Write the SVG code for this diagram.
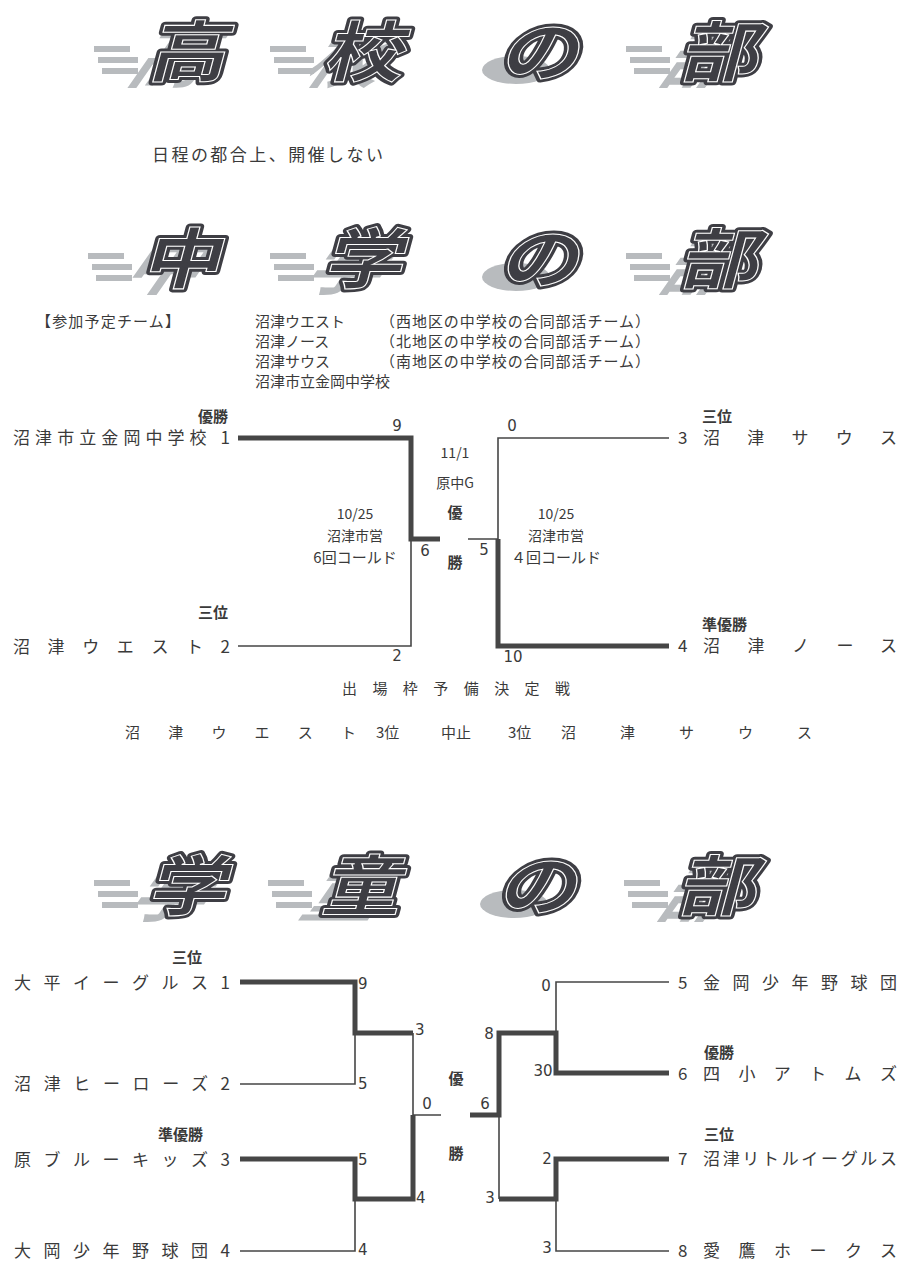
<svg xmlns="http://www.w3.org/2000/svg" width="923" height="1280" viewBox="0 0 923 1280">
<defs>
<style>
.t{font-family:"Noto Sans CJK JP","Noto Sans CJK SC",sans-serif;fill:#3a3a3a}
.n{font-size:17px}
.m{font-size:15px}
.b{font-weight:700;font-size:15px}
.d{font-family:"DejaVu Sans",sans-serif;font-size:15px;fill:#3a3a3a}
.ts{font-family:"Noto Sans CJK JP",sans-serif;font-weight:700;font-size:66px;fill:#b8bbbe;text-anchor:middle}
.tm{font-family:"Noto Sans CJK JP",sans-serif;font-weight:700;font-size:66px;fill:#3e3e44;stroke:#3e3e44;stroke-width:7;stroke-linejoin:round;text-anchor:middle}
.tw{font-family:"Noto Sans CJK JP",sans-serif;font-weight:700;font-size:66px;fill:none;stroke:#ffffff;stroke-width:1;text-anchor:middle}
.sl{fill:#b8bbbe}
.thk{fill:none;stroke:#464646;stroke-width:5;stroke-linejoin:miter}
.thn{fill:none;stroke:#464646;stroke-width:1.6}
</style>
</defs>
<rect width="923" height="1280" fill="#ffffff"/>

<!-- Title 1 -->
<g id="title-koukou">
<g transform="translate(186,76)"><rect class="sl" x="-92" y="-30" width="36" height="6"/><rect class="sl" x="-88" y="-19" width="40" height="6"/><rect class="sl" x="-84" y="-8" width="36" height="6"/><text class="ts" transform="translate(-24,6) skewX(-35) scale(1.15,1)">高</text><text class="tm" transform="skewX(-15) scale(1.2,1)">高</text><text class="tw" transform="skewX(-15) scale(1.2,1)">高</text></g>
<g transform="translate(362,76)"><rect class="sl" x="-92" y="-30" width="36" height="6"/><rect class="sl" x="-88" y="-19" width="40" height="6"/><rect class="sl" x="-84" y="-8" width="36" height="6"/><text class="ts" transform="translate(-24,6) skewX(-35) scale(1.15,1)">校</text><text class="tm" transform="skewX(-15) scale(1.2,1)">校</text><text class="tw" transform="skewX(-15) scale(1.2,1)">校</text></g>
<g transform="translate(538,76)"><ellipse class="sl" cx="-22" cy="-6" rx="34" ry="14"/><text class="tm" transform="skewX(-15) scale(1.2,1)">の</text><text class="tw" transform="skewX(-15) scale(1.2,1)">の</text></g>
<g transform="translate(718,76)"><rect class="sl" x="-92" y="-30" width="36" height="6"/><rect class="sl" x="-88" y="-19" width="40" height="6"/><rect class="sl" x="-84" y="-8" width="36" height="6"/><text class="ts" transform="translate(-24,6) skewX(-35) scale(1.15,1)">部</text><text class="tm" transform="skewX(-15) scale(1.2,1)">部</text><text class="tw" transform="skewX(-15) scale(1.2,1)">部</text></g>
</g>
<g id="note-koukou"><text class="t" x="152" y="161" font-size="17" textLength="231" lengthAdjust="spacing">日程の都合上、開催しない</text></g>

<!-- Title 2 -->
<g id="title-chugaku">
<g transform="translate(180,283)"><rect class="sl" x="-92" y="-30" width="36" height="6"/><rect class="sl" x="-88" y="-19" width="40" height="6"/><rect class="sl" x="-84" y="-8" width="36" height="6"/><text class="ts" transform="translate(-24,6) skewX(-35) scale(1.15,1)">中</text><text class="tm" transform="skewX(-15) scale(1.2,1)">中</text><text class="tw" transform="skewX(-15) scale(1.2,1)">中</text></g>
<g transform="translate(362,283)"><rect class="sl" x="-92" y="-30" width="36" height="6"/><rect class="sl" x="-88" y="-19" width="40" height="6"/><rect class="sl" x="-84" y="-8" width="36" height="6"/><text class="ts" transform="translate(-24,6) skewX(-35) scale(1.15,1)">学</text><text class="tm" transform="skewX(-15) scale(1.2,1)">学</text><text class="tw" transform="skewX(-15) scale(1.2,1)">学</text></g>
<g transform="translate(538,283)"><ellipse class="sl" cx="-22" cy="-6" rx="34" ry="14"/><text class="tm" transform="skewX(-15) scale(1.2,1)">の</text><text class="tw" transform="skewX(-15) scale(1.2,1)">の</text></g>
<g transform="translate(718,283)"><rect class="sl" x="-92" y="-30" width="36" height="6"/><rect class="sl" x="-88" y="-19" width="40" height="6"/><rect class="sl" x="-84" y="-8" width="36" height="6"/><text class="ts" transform="translate(-24,6) skewX(-35) scale(1.15,1)">部</text><text class="tm" transform="skewX(-15) scale(1.2,1)">部</text><text class="tw" transform="skewX(-15) scale(1.2,1)">部</text></g>
</g>

<g id="teams-list">
<text class="t m" x="36" y="327" textLength="144" lengthAdjust="spacing">【参加予定チーム】</text>
<text class="t m" x="255" y="327">沼津ウエスト</text>
<text class="t m" x="380" y="327" textLength="270" lengthAdjust="spacing">（西地区の中学校の合同部活チーム）</text>
<text class="t m" x="255" y="347">沼津ノース</text>
<text class="t m" x="380" y="347" textLength="270" lengthAdjust="spacing">（北地区の中学校の合同部活チーム）</text>
<text class="t m" x="255" y="367">沼津サウス</text>
<text class="t m" x="380" y="367" textLength="270" lengthAdjust="spacing">（南地区の中学校の合同部活チーム）</text>
<text class="t m" x="255" y="387">沼津市立金岡中学校</text>
</g>

<!-- Junior high bracket -->
<g id="connectors-chugaku">
<path class="thk" d="M238,438 H411 V539 H440"/>
<path class="thn" d="M411,539 V646 H238"/>
<path class="thn" d="M468,539 H498 V438 H669"/>
<path class="thk" d="M498,539 V646 H669"/>
</g>
<g id="team-c1"><text class="t b" x="198" y="422">優勝</text><text class="t n" x="13" y="444" textLength="217" lengthAdjust="spacing">沼津市立金岡中学校 1</text></g>
<g id="team-c2"><text class="t b" x="198" y="618">三位</text><text class="t n" x="13" y="653" textLength="217" lengthAdjust="spacing">沼津ウエスト2</text></g>
<g id="team-c3"><text class="t b" x="702" y="422">三位</text><text class="t n" x="678" y="444">3</text><text class="t n" x="703" y="444" textLength="194" lengthAdjust="spacing">沼津サウス</text></g>
<g id="team-c4"><text class="t b" x="702" y="630">準優勝</text><text class="t n" x="678" y="652">4</text><text class="t n" x="703" y="652" textLength="194" lengthAdjust="spacing">沼津ノース</text></g>
<g id="scores-chugaku">
<text class="d" x="397" y="431" text-anchor="middle">9</text>
<text class="d" x="425" y="556" text-anchor="middle">6</text>
<text class="d" x="397" y="661" text-anchor="middle">2</text>
<text class="d" x="512" y="431" text-anchor="middle">0</text>
<text class="d" x="484" y="555" text-anchor="middle">5</text>
<text class="d" x="513" y="662" text-anchor="middle">10</text>
</g>
<g id="final-chugaku">
<text class="t" x="455" y="458" font-size="14" text-anchor="middle">11/1</text>
<text class="t" x="455" y="488" font-size="14" text-anchor="middle">原中G</text>
<text class="t b" x="455" y="518" text-anchor="middle">優</text>
<text class="t b" x="455" y="568" text-anchor="middle">勝</text>
</g>
<g id="semi-c1">
<text class="t" x="355" y="519" font-size="14" text-anchor="middle">10/25</text>
<text class="t" x="355" y="541" font-size="14" text-anchor="middle">沼津市営</text>
<text class="t" x="355" y="563" font-size="15" text-anchor="middle">6回コールド</text>
</g>
<g id="semi-c2">
<text class="t" x="556" y="519" font-size="14" text-anchor="middle">10/25</text>
<text class="t" x="556" y="541" font-size="14" text-anchor="middle">沼津市営</text>
<text class="t" x="556" y="563" font-size="15" text-anchor="middle">４回コールド</text>
</g>
<g id="playoff">
<text class="t m" x="342" y="694" textLength="228" lengthAdjust="spacing">出場枠予備決定戦</text>
<text class="t m" x="125" y="738" textLength="231" lengthAdjust="spacing">沼津ウエスト</text>
<text class="t m" x="376" y="738">3位</text>
<text class="t m" x="441" y="738">中止</text>
<text class="t m" x="508" y="738">3位</text>
<text class="t m" x="561" y="738" textLength="251" lengthAdjust="spacing">沼津サウス</text>
</g>

<!-- Title 3 -->
<g id="title-gakudou">
<g transform="translate(186,910)"><rect class="sl" x="-92" y="-30" width="36" height="6"/><rect class="sl" x="-88" y="-19" width="40" height="6"/><rect class="sl" x="-84" y="-8" width="36" height="6"/><text class="ts" transform="translate(-24,6) skewX(-35) scale(1.15,1)">学</text><text class="tm" transform="skewX(-15) scale(1.2,1)">学</text><text class="tw" transform="skewX(-15) scale(1.2,1)">学</text></g>
<g transform="translate(360,910)"><rect class="sl" x="-92" y="-30" width="36" height="6"/><rect class="sl" x="-88" y="-19" width="40" height="6"/><rect class="sl" x="-84" y="-8" width="36" height="6"/><text class="ts" transform="translate(-24,6) skewX(-35) scale(1.15,1)">童</text><text class="tm" transform="skewX(-15) scale(1.2,1)">童</text><text class="tw" transform="skewX(-15) scale(1.2,1)">童</text></g>
<g transform="translate(536,910)"><ellipse class="sl" cx="-22" cy="-6" rx="34" ry="14"/><text class="tm" transform="skewX(-15) scale(1.2,1)">の</text><text class="tw" transform="skewX(-15) scale(1.2,1)">の</text></g>
<g transform="translate(716,910)"><rect class="sl" x="-92" y="-30" width="36" height="6"/><rect class="sl" x="-88" y="-19" width="40" height="6"/><rect class="sl" x="-84" y="-8" width="36" height="6"/><text class="ts" transform="translate(-24,6) skewX(-35) scale(1.15,1)">部</text><text class="tm" transform="skewX(-15) scale(1.2,1)">部</text><text class="tw" transform="skewX(-15) scale(1.2,1)">部</text></g>
</g>

<!-- Elementary bracket -->
<g id="connectors-gakudou">
<path class="thk" d="M240,982 H355 V1033 H413"/>
<path class="thn" d="M355,1033 V1084 H240"/>
<path class="thk" d="M240,1159 H355 V1199 H413 V1115"/>
<path class="thn" d="M355,1199 V1251 H240"/>
<path class="thn" d="M413,1033 V1115 H441"/>
<path class="thk" d="M470,1115 H499 V1033 H556 V1073 H669"/>
<path class="thn" d="M556,1033 V982 H669"/>
<path class="thn" d="M499,1115 V1199"/>
<path class="thk" d="M499,1199 H556 V1159 H669"/>
<path class="thn" d="M556,1199 V1251 H669"/>
</g>
<g id="team-g1"><text class="t b" x="172" y="963">三位</text><text class="t n" x="14" y="989" textLength="216" lengthAdjust="spacing">大平イーグルス1</text></g>
<g id="team-g2"><text class="t n" x="14" y="1090" textLength="216" lengthAdjust="spacing">沼津ヒーローズ2</text></g>
<g id="team-g3"><text class="t b" x="158" y="1140">準優勝</text><text class="t n" x="14" y="1166" textLength="216" lengthAdjust="spacing">原ブルーキッズ3</text></g>
<g id="team-g4"><text class="t n" x="14" y="1257" textLength="216" lengthAdjust="spacing">大岡少年野球団4</text></g>
<g id="team-g5"><text class="t n" x="678" y="989">5</text><text class="t n" x="703" y="989" textLength="194" lengthAdjust="spacing">金岡少年野球団</text></g>
<g id="team-g6"><text class="t b" x="704" y="1058">優勝</text><text class="t n" x="678" y="1080">6</text><text class="t n" x="703" y="1080" textLength="194" lengthAdjust="spacing">四小アトムズ</text></g>
<g id="team-g7"><text class="t b" x="704" y="1140">三位</text><text class="t n" x="678" y="1165">7</text><text class="t n" x="703" y="1165" textLength="194" lengthAdjust="spacing">沼津リトルイーグルス</text></g>
<g id="team-g8"><text class="t n" x="678" y="1257">8</text><text class="t n" x="703" y="1257" textLength="194" lengthAdjust="spacing">愛鷹ホークス</text></g>
<g id="scores-gakudou">
<text class="d" x="358" y="989">9</text>
<text class="d" x="358" y="1089">5</text>
<text class="d" x="415" y="1035">3</text>
<text class="d" x="358" y="1165">5</text>
<text class="d" x="358" y="1255">4</text>
<text class="d" x="416" y="1203">4</text>
<text class="d" x="427" y="1109" text-anchor="middle">0</text>
<text class="d" x="489" y="1039" text-anchor="middle">8</text>
<text class="d" x="485" y="1109" text-anchor="middle">6</text>
<text class="d" x="490" y="1203" text-anchor="middle">3</text>
<text class="d" x="546" y="991" text-anchor="middle">0</text>
<text class="d" x="543" y="1076" text-anchor="middle" font-size="12">30</text>
<text class="d" x="547" y="1164" text-anchor="middle">2</text>
<text class="d" x="547" y="1253" text-anchor="middle">3</text>
</g>
<g id="final-gakudou">
<text class="t b" x="456" y="1084" text-anchor="middle">優</text>
<text class="t b" x="456" y="1159" text-anchor="middle">勝</text>
</g>
</svg>
